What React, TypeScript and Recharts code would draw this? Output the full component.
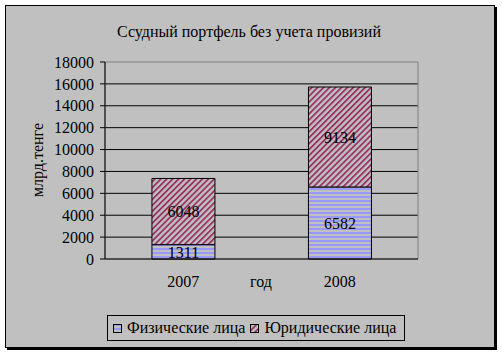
import { Bar, BarChart, CartesianGrid, LabelList, ReferenceArea, XAxis, YAxis } from "recharts"

const years = ["2007", "2008"]
const fizValues = [1311, 6582]
const yurValues = [6048, 9134]
const yTicks = [0, 2000, 4000, 6000, 8000, 10000, 12000, 14000, 16000, 18000]
const edgeTicks = [0, 1, 2]

const series = [
  { key: "fiz", name: "Физические лица", fill: "url(#pat-fiz)" },
  { key: "yur", name: "Юридические лица", fill: "url(#pat-yur)" },
]

const data = years.map((y, i) => ({ year: y, fiz: fizValues[i], yur: yurValues[i] }))

const FONT = "'Liberation Serif', 'Times New Roman', serif"
const BG = "#c0c0c0"

export default function App() {
  return (
    <div style={{ position: "absolute", left: 0, top: 0, width: 502, height: 355, background: "#fff", fontFamily: FONT }}>
      <div
        style={{
          position: "absolute",
          left: 5,
          top: 5,
          width: 490,
          height: 343,
          boxSizing: "border-box",
          border: "1px solid #000",
          boxShadow: "2px 2px 0 #000",
          background: BG,
        }}
      />
      <div style={{ position: "absolute", left: 0, top: 0 }}>
        <BarChart
          width={502}
          height={355}
          data={data}
          margin={{ top: 62, right: 84, left: 35, bottom: 66 }}
          barCategoryGap="30%"
        >
          <defs>
            <pattern id="pat-fiz" patternUnits="userSpaceOnUse" width={4} height={4}>
              <rect width={4} height={4} fill={BG} />
              <rect y={0} width={4} height={2} fill="#9999ff" />
            </pattern>
            <pattern id="pat-yur" patternUnits="userSpaceOnUse" width={4.2} height={10} patternTransform="rotate(45)">
              <rect width={4.2} height={10} fill={BG} />
              <rect width={1.8} height={10} fill="#993366" />
            </pattern>
          </defs>
          <CartesianGrid stroke="#000" vertical={false} horizontalValues={yTicks.slice(1, -1)} />
          <ReferenceArea y1={0} y2={18000} fill="none" stroke="#808080" strokeWidth={1} ifOverflow="extendDomain" />
          <XAxis
            xAxisId="edge"
            type="number"
            domain={[0, 2]}
            ticks={edgeTicks}
            tick={false}
            axisLine={false}
            tickLine={{ stroke: "#000" }}
            tickSize={5}
            height={0}
          />
          <XAxis
            dataKey="year"
            axisLine={{ stroke: "#000" }}
            tickLine={false}
            tickSize={0}
            tickMargin={17}
            height={30}
            tick={{ fill: "#000", fontSize: 16, fontFamily: FONT }}
          />
          <YAxis
            domain={[0, 18000]}
            ticks={yTicks}
            interval={0}
            width={70}
            axisLine={{ stroke: "#000" }}
            tickLine={{ stroke: "#000" }}
            tickSize={5}
            tickMargin={6}
            tick={{ fill: "#000", fontSize: 16, fontFamily: FONT }}
          />
          {series.map((s) => (
            <Bar key={s.key} dataKey={s.key} name={s.name} stackId="a" fill={s.fill} stroke="#000" strokeWidth={1} isAnimationActive={false}>
              <LabelList dataKey={s.key} position="center" fill="#000" fontSize={16} fontFamily={FONT} />
            </Bar>
          ))}
        </BarChart>
      </div>
      <div style={{ position: "absolute", left: 0, width: 502, top: 23.5, textAlign: "center", fontSize: 16, lineHeight: "16px", paddingRight: 4, boxSizing: "border-box" }}>
        Ссудный портфель без учета провизий
      </div>
      <div
        style={{
          position: "absolute",
          left: 38,
          top: 160,
          transform: "translate(-50%, -50%) rotate(-90deg)",
          fontSize: 16,
          lineHeight: "16px",
          whiteSpace: "nowrap",
        }}
      >
        млрд.тенге
      </div>
      <div style={{ position: "absolute", left: 231, width: 60, top: 274, textAlign: "center", fontSize: 16, lineHeight: "16px" }}>
        год
      </div>
      <div
        style={{
          position: "absolute",
          left: 107,
          top: 315,
          width: 298,
          height: 26,
          boxSizing: "border-box",
          border: "1px solid #000",
          display: "flex",
          alignItems: "center",
          paddingLeft: 5,
          fontSize: 16,
          lineHeight: "16px",
          whiteSpace: "nowrap",
        }}
      >
        {series.map((s) => (
          <span key={s.key} style={{ display: "inline-flex", alignItems: "center", marginRight: 5 }}>
            <svg width={9} height={9} style={{ marginRight: 5 }}>
              <rect x={0.5} y={0.5} width={8} height={8} fill={s.fill} stroke="#000" />
            </svg>
            {s.name}
          </span>
        ))}
      </div>
    </div>
  )
}
